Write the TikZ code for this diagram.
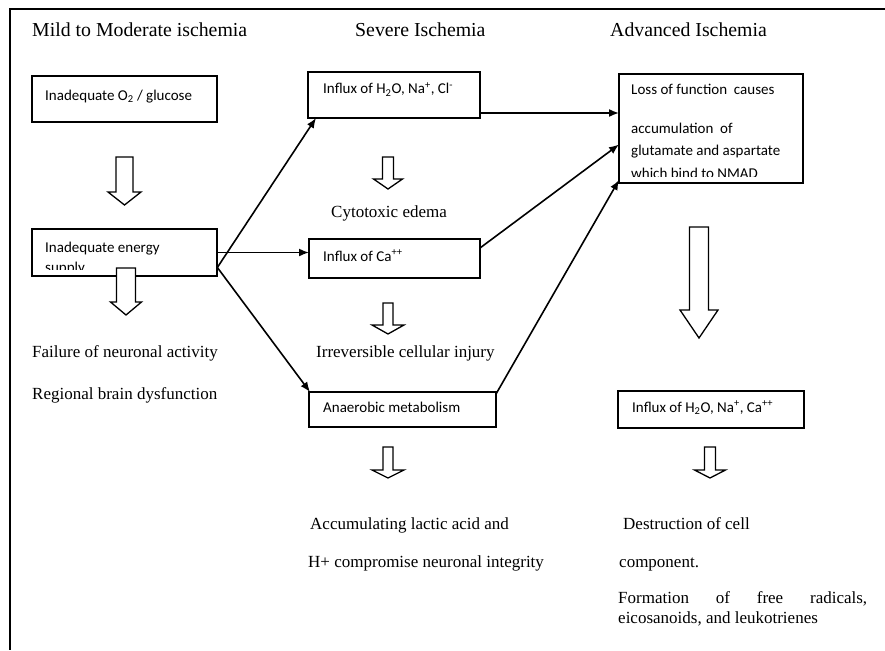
\documentclass[tikz,border=0pt]{standalone}
\usepackage{fontspec}
\setmainfont{Liberation Serif}
\newfontfamily\boxfont{Carlito}
\usetikzlibrary{arrows.meta}

\tikzset{
    box/.style={draw, line width=1.4pt, anchor=north west, inner sep=0pt, outer sep=0pt},
    boxtext/.style={font=\boxfont\fontsize{15}{18}\selectfont, anchor=base west, inner sep=0pt},
    caption/.style={font=\fontsize{17}{20}\selectfont, anchor=base west, inner sep=0pt},
    title/.style={font=\fontsize{19.8}{23}\selectfont, anchor=base west, inner sep=0pt},
    link/.style={-{Latex[length=10pt,width=8pt]}, line width=1.6pt},
    hollow/.style={draw, fill=white, line width=1.3pt, line join=miter}
}

% centre x, top, head start, tip, shaft half width, head half width
\newcommand{\hollowdown}[6]{%
    \draw[hollow] (#1-#5,#2) -- (#1+#5,#2) -- (#1+#5,#3) -- (#1+#6,#3) -- (#1,#4) -- (#1-#6,#3) -- (#1-#5,#3) -- cycle;}

\begin{document}
\begin{tikzpicture}[x=1pt,y=-1pt]
        \useasboundingbox (0,0) rectangle (885,650);
        \draw[line width=2pt] (885,9) -- (10,9) -- (10,650);

        % column titles
        \node[title] (mild) at (32,37) {Mild to Moderate ischemia};
        \node[title] (severe) at (355,37) {Severe Ischemia};
        \node[title] (advanced) at (610,37) {Advanced Ischemia};

        % boxes
        \node[box, minimum width=185pt, minimum height=46pt] (oxygen) at (32,76) {};
        \node[box, minimum width=185pt, minimum height=47pt] (energy) at (32,229) {};
        \node[box, minimum width=172pt, minimum height=46pt] (sodium) at (308,72) {};
        \node[box, minimum width=171pt, minimum height=39pt] (calcium) at (309,239) {};
        \node[box, minimum width=187pt, minimum height=35pt] (anaerobic) at (309,392) {};
        \node[box, minimum width=184pt, minimum height=109pt] (glutamate) at (619,74) {};
        \node[box, minimum width=186pt, minimum height=37pt] (influx) at (618,391) {};

        \node[boxtext] (oxygentext) at (45,100) {Inadequate O\textsubscript{2} / glucose};
        \node[boxtext] (energytext) at (45,252) {Inadequate energy};
        \begin{scope}
            \clip ([yshift=6.5pt]energy.south west) rectangle (energy.north east);
            \node[boxtext] (supply) at (45,272) {supply};
        \end{scope}
        \node[boxtext] (sodiumtext) at (323,94) {Influx of H\textsubscript{2}O, Na\textsuperscript{+}, Cl\textsuperscript{-}};
        \node[boxtext] (calciumtext) at (323,261) {Influx of Ca\textsuperscript{++}};
        \node[boxtext] (anaerobictext) at (323,412) {Anaerobic metabolism};
        \begin{scope}
            \clip ([yshift=7pt]glutamate.south west) rectangle (glutamate.north east);
            \node[boxtext] (loss) at (631,95) {Loss of function\ \ causes};
            \node[boxtext] (accum) at (631,133) {accumulation\ \ of};
            \node[boxtext] (gluasp) at (631,155) {glutamate and aspartate};
            \node[boxtext] (nmad) at (631,178) {which bind to NMAD};
        \end{scope}
        \node[boxtext] (influxtext) at (632,412) {Influx of H\textsubscript{2}O, Na\textsuperscript{+}, Ca\textsuperscript{++}};

        % connectors
        \draw[link] ([yshift=8pt]energy.south east) -- ([xshift=8pt]sodium.south west);
        \draw[link] (energy.east) -- (energy.east -| calcium.west);
        \draw[link] ([yshift=9pt]energy.south east) -- ([xshift=1pt]anaerobic.north west);
        \coordinate (sodiumout) at ([yshift=5pt]sodium.south east);
        \draw[link] (sodiumout) -- (sodiumout -| glutamate.west);
        \draw[link] ([yshift=-9pt]calcium.north east) -- ([yshift=-16pt]glutamate.west);
        \draw[link] ([yshift=-2pt]anaerobic.north east) -- ([yshift=3pt]glutamate.south west);

        % hollow arrows
        \hollowdown{124.5}{157}{192}{205}{8.5}{16.5}
        \hollowdown{126}{268}{302}{315}{9.5}{15.5}
        \hollowdown{388}{157}{179}{189}{5.5}{14.5}
        \hollowdown{388}{303}{325}{334}{5}{16}
        \hollowdown{388}{447}{470}{478}{5}{16}
        \hollowdown{699}{227}{310}{338}{9.5}{19}
        \hollowdown{710}{447}{470}{478}{5.5}{15.5}

        % outcomes
        \node[caption] (failure) at (32,357) {Failure of neuronal activity};
        \node[caption] (regional) at (32,399) {Regional brain dysfunction};
        \node[caption] (cytotoxic) at (331,217) {Cytotoxic edema};
        \node[caption] (irreversible) at (316,357) {Irreversible cellular injury};
        \node[caption] (lactic) at (310,529) {Accumulating lactic acid and};
        \node[caption] (hplus) at (308,567) {H+ compromise neuronal integrity};
        \node[caption] (destruction) at (623,529) {Destruction of cell};
        \node[caption] (component) at (619,567) {component.};
        \node[caption] (formation) at (618,603) {\makebox[249pt][s]{Formation of free radicals,}};
        \node[caption] (eicosanoids) at (618,623) {eicosanoids, and leukotrienes};
\end{tikzpicture}
\end{document}
